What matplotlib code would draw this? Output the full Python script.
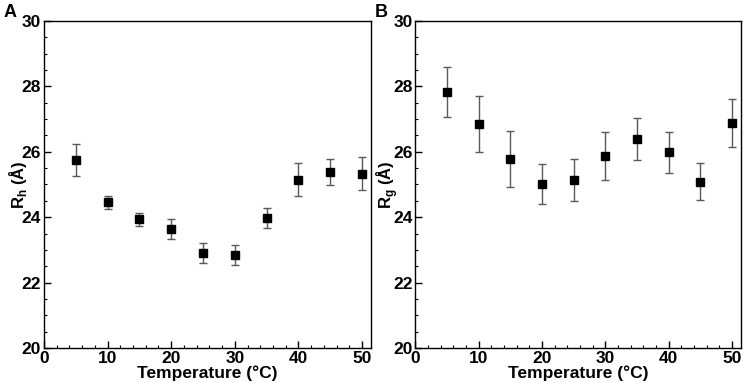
import matplotlib
matplotlib.use("Agg")
import matplotlib.pyplot as plt
from matplotlib.ticker import MultipleLocator

plt.rcParams['font.family'] = ['Liberation Sans', 'DejaVu Sans']
plt.rcParams['mathtext.fontset'] = 'custom'
plt.rcParams['mathtext.rm'] = 'Liberation Sans:bold'
plt.rcParams['mathtext.bf'] = 'Liberation Sans:bold'

temperature = [5, 10, 15, 20, 25, 30, 35, 40, 45, 50]

rh = [25.75, 24.46, 23.94, 23.63, 22.90, 22.84, 23.98, 25.15, 25.38, 25.33]
rh_err = [0.5, 0.2, 0.2, 0.3, 0.3, 0.3, 0.3, 0.5, 0.4, 0.5]

rg = [27.83, 26.85, 25.78, 25.01, 25.13, 25.88, 26.39, 25.99, 25.09, 26.88]
rg_err = [0.77, 0.85, 0.87, 0.62, 0.65, 0.73, 0.64, 0.63, 0.56, 0.72]

fig = plt.figure(figsize=(7.44, 3.83), dpi=100)
ax_a = fig.add_axes([0.0591, 0.0914, 0.4395, 0.8538])
ax_b = fig.add_axes([0.5582, 0.0914, 0.4378, 0.8538])


def style_panel(ax, values, errors, ylabel, letter, ylab_x, ylab_y):
    ax.errorbar(temperature, values, yerr=errors, fmt='s', color='black',
                markersize=5.3, ecolor='#5a5a5a', elinewidth=1.0,
                capsize=2.6, capthick=1.0)
    ax.set_xlim(0, 51.4)
    ax.set_ylim(20, 30)
    ax.xaxis.set_major_locator(MultipleLocator(10))
    ax.xaxis.set_minor_locator(MultipleLocator(2))
    ax.yaxis.set_major_locator(MultipleLocator(2))
    ax.yaxis.set_minor_locator(MultipleLocator(0.5))
    ax.tick_params(which='both', direction='in', top=False, right=False)
    ax.tick_params(which='major', length=5, width=1, labelsize=12.5, pad=2)
    ax.tick_params(which='minor', length=2.5, width=0.8)
    for lbl in ax.get_xticklabels() + ax.get_yticklabels():
        lbl.set_fontweight('bold')
    for s in ax.spines.values():
        s.set_linewidth(1.0)
    ax.set_xlabel('Temperature (\u00b0C)', fontsize=12.5,
                  fontweight='bold', labelpad=0)
    ax.set_ylabel(ylabel, fontsize=12, fontweight='bold')
    ax.yaxis.set_label_coords(ylab_x, ylab_y)
    ax.text(-0.125, 1.026, letter, transform=ax.transAxes, fontsize=13,
            fontweight='bold', va='center', ha='left')


style_panel(ax_a, rh, rh_err, 'R$_\\mathregular{h}$ (\u00c5)', 'A', -0.047, 0.50)
style_panel(ax_b, rg, rg_err, 'R$_\\mathregular{g}$ (\u00c5)', 'B', -0.047, 0.50)

fig.savefig('out.png', dpi=100)
